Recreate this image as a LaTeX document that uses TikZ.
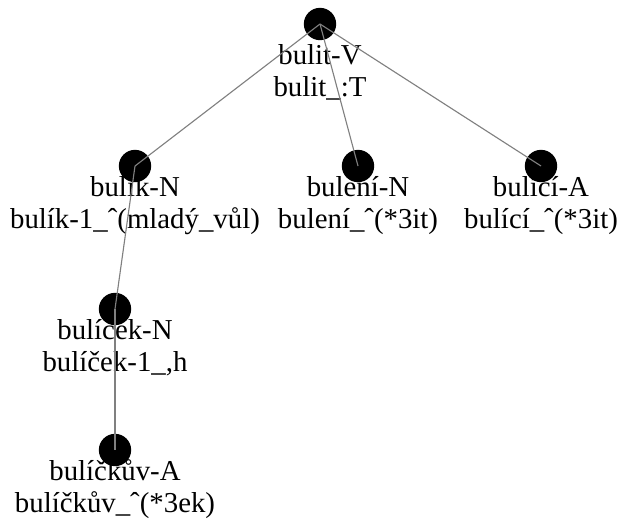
\documentclass[tikz,border=0pt]{standalone}
\usepackage{fontspec}
\setmainfont{Liberation Serif}
\usetikzlibrary{positioning}

\tikzset{
    morph/.style={circle, fill=black, inner sep=0pt, minimum size=23},
    lbl/.style={align=center, inner sep=0pt, anchor=base, font=\fontsize{20.5}{22.7}\selectfont},
    edge/.style={draw=gray, line width=0.8pt}
}

\begin{document}
\begin{tikzpicture}[x=0.025cm, y=-0.025cm]
    \useasboundingbox (0, 0) rectangle (617, 522);
    % Dots
    \node[morph] (bulit) at (320, 24) {};
    \node[morph] (bulik) at (135, 166) {};
    \node[morph] (buleni) at (358, 166) {};
    \node[morph] (bulici) at (541, 166) {};
    \node[morph] (bulicek) at (115, 309) {};
    \node[morph] (bulickuv) at (115, 450) {};
    % Labels
    \node[lbl] (bulitlbl) at ([yshift=-39.7pt]bulit.south) {bulit-V\\bulit\_:T};
    \node[lbl] (buliklbl) at ([yshift=-32.5pt]bulik.south) {bulík-N\\bulík-1\_ˆ(mladý\_vůl)};
    \node[lbl] (bulenilbl) at ([yshift=-32.5pt]buleni.south) {bulení-N\\bulení\_ˆ(*3it)};
    \node[lbl] (bulicilbl) at ([yshift=-32.5pt]bulici.south) {bulící-A\\bulící\_ˆ(*3it)};
    \node[lbl] (buliceklbl) at ([yshift=-32.5pt]bulicek.south) {bulíček-N\\bulíček-1\_,h};
    \node[lbl] (bulickuvlbl) at ([yshift=-32.5pt]bulickuv.south) {bulíčkův-A\\bulíčkův\_ˆ(*3ek)};
    % Edges
    \draw[edge] (bulit.center) -- (bulik.center);
    \draw[edge] (bulit.center) -- (buleni.center);
    \draw[edge] (bulit.center) -- (bulici.center);
    \draw[edge] (bulik.center) -- (bulicek.center);
    \draw[edge] (bulicek.center) -- (bulickuv.center);
\end{tikzpicture}
\end{document}
